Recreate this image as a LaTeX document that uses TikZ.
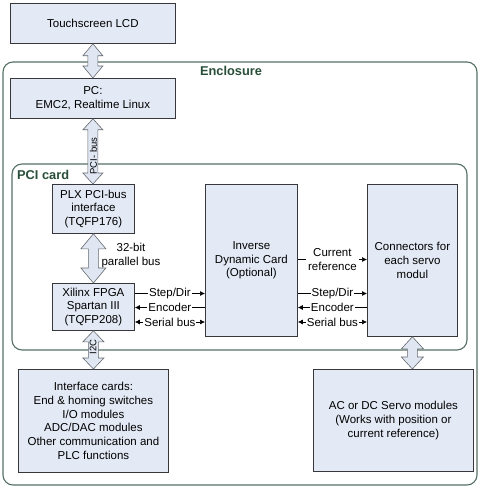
\documentclass[tikz,border=0pt]{standalone}
\usepackage{fontspec}
\setmainfont{Liberation Sans}
\usetikzlibrary{calc,arrows.meta}
\definecolor{boxfill}{RGB}{228,234,245}
\definecolor{boxborder}{RGB}{55,55,60}
\definecolor{arrfill}{RGB}{224,231,243}
\definecolor{arrborder}{RGB}{100,105,110}
\definecolor{encborder}{RGB}{85,112,98}
\definecolor{enctext}{RGB}{40,78,56}
\newcommand\mainf{\fontsize{11.5}{13.8}\selectfont}
\newcommand\sigf{\fontsize{11.5}{13.8}\selectfont}
\newcommand\blockarr[4]{%
  \path[barrow] let \p1=(#1), \p2=(#2) in
    (\x1,\y1) -- (\x1+#3pt,\y1-#4pt) -- (\x1+5pt,\y1-#4pt) -- (\x1+5pt,\y2+#4pt)
    -- (\x1+#3pt,\y2+#4pt) -- (\x1,\y2) -- (\x1-#3pt,\y2+#4pt) -- (\x1-5pt,\y2+#4pt)
    -- (\x1-5pt,\y1-#4pt) -- (\x1-#3pt,\y1-#4pt) -- cycle;}
\tikzset{
  box/.style={draw=boxborder, fill=boxfill, line width=0.8pt, align=center,
    font=\mainf, inner sep=0pt, anchor=north west},
  container/.style={draw=encborder, line width=1.1pt, rounded corners=10pt},
  ctitle/.style={font=\fontsize{12.8}{14}\selectfont\bfseries, text=enctext, inner sep=0pt},
  barrow/.style={draw=arrborder, fill=arrfill, line width=0.6pt},
  sig/.style={line width=0.7pt, draw=black},
  lbl/.style={fill=white, inner sep=1pt, font=\sigf, align=center},
  rlbl/.style={rotate=90, inner sep=0pt, font=\fontsize{9.5}{10}\selectfont}
}
\begin{document}
\begin{tikzpicture}[x=1pt,y=-1pt]
\useasboundingbox (0,0) rectangle (482,489);
% containers
\draw[container] (3,62) rectangle (477,485);
\node[ctitle] (enclbl) at (231,71) {Enclosure};
\draw[container] (12,164) rectangle (467,350);
\node[ctitle, anchor=west] (pcilbl) at (17,175) {PCI card};
% boxes
\node[box, minimum width=165pt, minimum height=40pt] (lcd) at (10,3) {Touchscreen LCD};
\node[box, minimum width=165pt, minimum height=40pt] (pc) at (10,78) {PC:\\EMC2, Realtime Linux};
\node[box, minimum width=82pt, minimum height=49pt] (plx) at (52,184) {PLX PCI-bus\\interface\\(TQFP176)};
\node[box, minimum width=82pt, minimum height=47pt] (fpga) at (52,283) {Xilinx FPGA\\Spartan III\\(TQFP208)};
\node[box, minimum width=150pt, minimum height=103pt] (ifc) at (18,369) {Interface cards:\\End \& homing switches\\I/O modules\\ADC/DAC modules\\Other communication and\\PLC functions};
\node[box, minimum width=92pt, minimum height=152pt] (idc) at (205,184) {Inverse\\Dynamic Card\\(Optional)};
\node[box, minimum width=90pt, minimum height=152pt] (conn) at (367,184) {Connectors for\\each servo\\modul};
\node[box, minimum width=160pt, minimum height=102pt] (servo) at (313,369) {AC or DC Servo modules\\(Works with position or\\current reference)};
% block arrows
\blockarr{lcd.south}{pc.north}{10}{12}
\blockarr{pc.south}{plx.north}{10}{11}
\blockarr{plx.south}{fpga.north}{12.5}{15}
\blockarr{fpga.south}{ifc.north}{10.5}{11}
\blockarr{conn.south}{servo.north}{11}{12}
\node[rlbl] (pcibus) at (93.5,156) {PCI- bus};
\node[rlbl] (i2c) at (93,347) {I2C};
\node[font=\mainf, align=center, inner sep=0pt] (buslbl) at (131,255.5) {32-bit\\parallel bus};
% signal lines
\coordinate (ycr) at (0,259.5);
\coordinate (ysd) at (0,293.5);
\coordinate (yen) at (0,307.5);
\coordinate (ysb) at (0,322);
\draw[sig, -{Latex[length=5pt,width=5pt]}] (fpga.east |- ysd) -- node[lbl] {Step/Dir} (idc.west |- ysd);
\draw[sig, {Latex[length=5pt,width=5pt]}-] (fpga.east |- yen) -- node[lbl] {Encoder} (idc.west |- yen);
\draw[sig, {Latex[length=5pt,width=5pt]}-{Latex[length=5pt,width=5pt]}] (fpga.east |- ysb) -- node[lbl] {Serial bus} (idc.west |- ysb);
\draw[sig, -{Latex[length=5pt,width=5pt]}] (idc.east |- ycr) -- node[lbl, font=\mainf, inner sep=2pt] {Current\\reference} (conn.west |- ycr);
\draw[sig, -{Latex[length=5pt,width=5pt]}] (idc.east |- ysd) -- node[lbl] {Step/Dir} (conn.west |- ysd);
\draw[sig, {Latex[length=5pt,width=5pt]}-] (idc.east |- yen) -- node[lbl] {Encoder} (conn.west |- yen);
\draw[sig, {Latex[length=5pt,width=5pt]}-{Latex[length=5pt,width=5pt]}] (idc.east |- ysb) -- node[lbl] {Serial bus} (conn.west |- ysb);
\end{tikzpicture}
\end{document}
